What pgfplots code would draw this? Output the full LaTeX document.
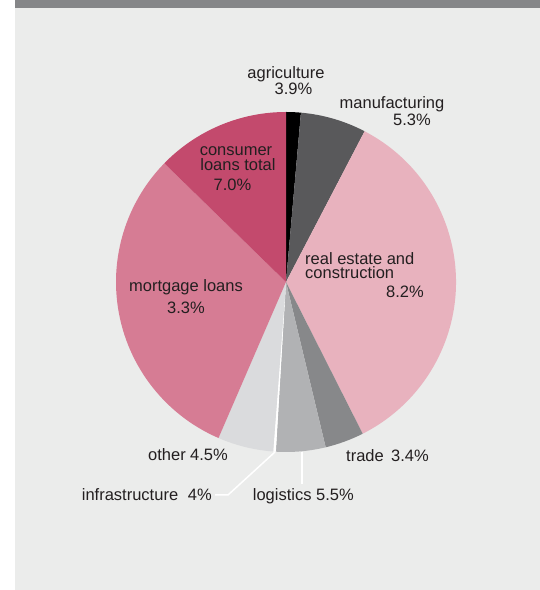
\documentclass[border=0pt]{standalone}
\usepackage{pgfplots}
\usepackage{pgfplotstable}
\pgfplotsset{compat=1.18}
\usepackage{fontspec}
\setmainfont{Liberation Sans}

\definecolor{panel}{HTML}{EBECEB}
\definecolor{topbar}{HTML}{858688}
\definecolor{txt}{HTML}{231F20}
\definecolor{cAgri}{HTML}{000000}
\definecolor{cManu}{HTML}{59595B}
\definecolor{cReal}{HTML}{E8B2BE}
\definecolor{cTrade}{HTML}{87888A}
\definecolor{cLog}{HTML}{B1B2B4}
\definecolor{cInfra}{HTML}{FFFFFF}
\definecolor{cOther}{HTML}{DADBDD}
\definecolor{cMort}{HTML}{D67C94}
\definecolor{cCons}{HTML}{C34A6D}

% slice shares (% of the pie), clockwise from 12 o'clock
\pgfplotstableread{
share  col
1.4    cAgri
6.25   cManu
34.9   cReal
3.7    cTrade
4.7    cLog
0.25   cInfra
5.3    cOther
30.8   cMort
12.7   cCons
}\slices

\begin{document}
\begin{tikzpicture}
\useasboundingbox (0,0) rectangle (540bp,590bp);
\fill[white] (0,0) rectangle (540bp,590bp);
\fill[panel] (15bp,0) rectangle (540bp,590bp);
\fill[topbar] (15bp,582bp) rectangle (540bp,590bp);

\begin{axis}[
    at={(286bp,308bp)}, anchor=origin,
    x=170bp, y=170bp,
    xmin=-1.2, xmax=1.2, ymin=-1.2, ymax=1.2,
    hide axis, clip=false,
]
\pgfplotstablegetrowsof{\slices}
\pgfmathtruncatemacro\nlast{\pgfplotsretval-1}
\def\cum{0}
\pgfplotsforeachungrouped \i in {0,...,\nlast}{%
  \pgfplotstablegetelem{\i}{share}\of\slices \let\s=\pgfplotsretval
  \pgfplotstablegetelem{\i}{col}\of\slices \let\c=\pgfplotsretval
  \pgfmathsetmacro\a{90-3.6*\cum}
  \pgfmathsetmacro\b{90-3.6*(\cum+\s)}
  \edef\slicecmd{\noexpand\fill[\c] (axis cs:0,0) -- (axis cs:{cos(\a)},{sin(\a)})
     arc[start angle=\a, end angle=\b, radius=170bp] -- cycle;}
  \slicecmd
  \pgfmathsetmacro\cum{\cum+\s}
}
\end{axis}

% labels, in pixel coordinates of the reference (y downwards)
\begin{scope}[x=1bp, y=-1bp, yshift=590bp,
    every node/.style={inner sep=0pt, text=txt, font=\fontsize{16.5bp}{16.5bp}\selectfont}]
\draw[white, line width=1.5bp] (275,452) -- (228,495) -- (215,495);
\draw[white, line width=1.5bp] (302,452) -- (302,484);

\node[anchor=base] at (286,79) {agriculture};
\node[anchor=base] at (293.5,95) {3.9\%};
\node[anchor=base] at (392,109) {manufacturing};
\node[anchor=base] at (412,126) {5.3\%};
\node[anchor=base] at (236,156) {consumer};
\node[anchor=base] at (238,170.5) {loans total};
\node[anchor=base] at (232.5,191) {7.0\%};
\node[anchor=base west] at (305,265) {real estate and};
\node[anchor=base west] at (305,279) {construction};
\node[anchor=base] at (405,297.5) {8.2\%};
\node[anchor=base] at (186,292) {mortgage loans};
\node[anchor=base] at (186,314) {3.3\%};
\node[anchor=base west] at (148,461) {other};
\node[anchor=base west] at (190,461) {4.5\%};
\node[anchor=base west] at (346,462) {trade};
\node[anchor=base west] at (391,462) {3.4\%};
\node[anchor=base west] at (81.7,501) {infrastructure};
\node[anchor=base west] at (187.7,501) {4\%};
\node[anchor=base west] at (252.7,501) {logistics};
\node[anchor=base west] at (316,501) {5.5\%};
\end{scope}
\end{tikzpicture}
\end{document}
